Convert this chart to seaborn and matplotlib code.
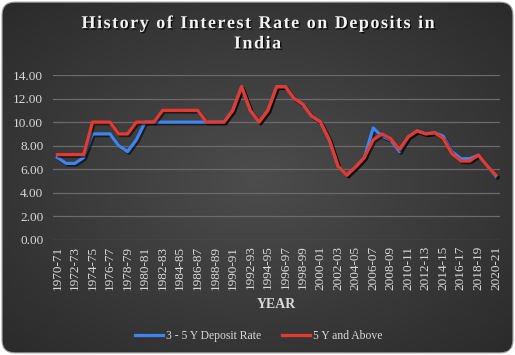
import numpy as np
import pandas as pd
import seaborn as sns
import matplotlib.pyplot as plt
import matplotlib.patheffects as pe
from matplotlib.patches import FancyBboxPatch

# データ
years = [f"{y}-{str(y + 1)[-2:]}" for y in range(1970, 2021)]
rate_3_5 = [7.0, 6.5, 6.5, 7.0, 9.0, 9.0, 9.0, 8.0, 7.5, 8.5,
            10.0, 10.0, 10.0, 10.0, 10.0, 10.0, 10.0, 10.0, 10.0, 10.0,
            11.0, 13.0, 11.0, 10.0, 11.0, 13.0, 13.0, 12.0, 11.5, 10.5,
            10.0, 8.5, 6.25, 5.5, 6.2, 7.0, 9.5, 8.8, 8.5, 7.5,
            8.75, 9.25, 9.0, 9.1, 8.8, 7.5, 6.9, 6.9, 7.2, 6.3, 5.4]
rate_5_above = [7.25, 7.25, 7.25, 7.25, 10.0, 10.0, 10.0, 9.0, 9.0, 10.0,
                10.0, 10.0, 11.0, 11.0, 11.0, 11.0, 11.0, 10.0, 10.0, 10.0,
                11.0, 13.0, 11.0, 10.0, 11.0, 13.0, 13.0, 12.0, 11.5, 10.5,
                10.0, 8.5, 6.25, 5.5, 6.2, 7.0, 8.5, 9.0, 8.6, 7.7,
                8.75, 9.25, 9.0, 9.1, 8.6, 7.3, 6.7, 6.7, 7.2, 6.3, 5.5]
series_names = ["3 - 5 Y Deposit Rate", "5 Y and Above"]
colors = ["#3d86f2", "#e8392f"]
title_lines = ["History of Interest Rate on Deposits in", "India"]

df = pd.DataFrame({
    "idx": list(range(len(years))) * 2,
    "rate": rate_3_5 + rate_5_above,
    "series": [series_names[0]] * len(years) + [series_names[1]] * len(years),
})

serif = ["Liberation Serif", "DejaVu Serif"]
txt_col = "#d9d9d9"

fig = plt.figure(figsize=(5.15, 3.55), dpi=100, facecolor="white")

# 背景（放射グラデーション + 角丸）
bg = fig.add_axes([0, 0, 1, 1], zorder=0)
bg.set_axis_off()
gx, gy = np.meshgrid(np.linspace(-1, 1, 515), np.linspace(-1, 1, 355))
r = np.clip(np.sqrt(gx ** 2 + gy ** 2) / np.sqrt(2), 0, 1)
shade = 0.30 - 0.135 * r
img = np.dstack([shade, shade, shade])
im = bg.imshow(img, extent=[0, 1, 0, 1], aspect="auto", transform=bg.transAxes)
box = FancyBboxPatch((0.004, 0.006), 0.992, 0.988,
                     boxstyle="round,pad=0,rounding_size=0.025",
                     transform=bg.transAxes, facecolor="none",
                     edgecolor="#9a9a9a", linewidth=0.8, mutation_aspect=515 / 355)
bg.add_patch(box)
im.set_clip_path(box)
bg.set_xlim(0, 1)
bg.set_ylim(0, 1)

ax = fig.add_axes([53 / 515, 115 / 355, 447.4 / 515, 165 / 355], zorder=1)
ax.patch.set_alpha(0)

sns.lineplot(data=df, x="idx", y="rate", hue="series", palette=colors,
             linewidth=2.3, ax=ax, legend=False)
for line in ax.lines:
    line.set_path_effects([pe.SimpleLineShadow(offset=(1.2, -1.2), shadow_color="black", alpha=0.55),
                           pe.Normal()])

ax.set_xlim(-0.5, len(years) - 0.5)
ax.set_ylim(0, 14)
ax.set_yticks(np.arange(0, 14.1, 2))
ax.set_yticklabels([f"{v:.2f}" for v in np.arange(0, 14.1, 2)], family=serif, fontsize=9.5, color=txt_col)
ax.set_xticks(range(0, len(years), 2))
ax.set_xticklabels(years[::2], rotation=90, family=serif, fontsize=9.5, color=txt_col)
ax.tick_params(length=0, pad=7)
ax.tick_params(axis="x", pad=4)
ax.grid(axis="y", color="#6b6b6b", linewidth=0.9)
ax.set_axisbelow(True)
for s in ax.spines.values():
    s.set_visible(False)
ax.set_ylabel("")
ax.set_xlabel("YEAR", family=serif, fontsize=10, fontweight="bold", color=txt_col, labelpad=6)

# タイトル（字間を広げる）
spaced = "\n".join("\u200a".join(s) for s in title_lines)
fig.text(0.5, 0.905, spaced, ha="center", va="center", multialignment="center",
         family=["Liberation Serif", "DejaVu Serif"], fontsize=13, fontweight="bold",
         color="#f2f2f2", linespacing=1.25,
         path_effects=[pe.withSimplePatchShadow(offset=(1, -1), shadow_rgbFace="black", alpha=0.8)])

handles = [plt.Line2D([], [], color=c, linewidth=2.3) for c in colors]
leg = fig.legend(handles, series_names, loc="center", bbox_to_anchor=(0.503, 0.053), ncol=2,
                 frameon=False, handlelength=2.4, columnspacing=1.8, handletextpad=0.25,
                 prop={"family": serif, "size": 8.4})
for t in leg.get_texts():
    t.set_color(txt_col)

fig.savefig("out.png", dpi=100)
